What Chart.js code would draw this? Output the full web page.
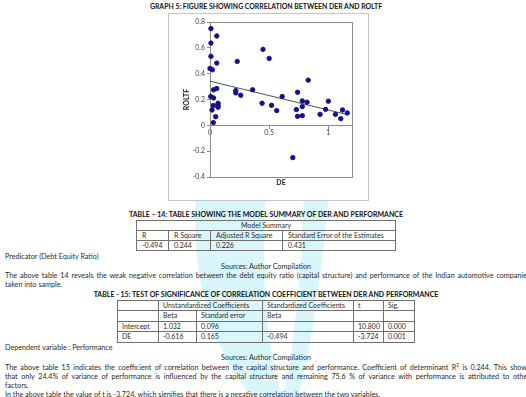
<!DOCTYPE html>
<html>
<head>
<meta charset="utf-8">
<script src="https://cdn.jsdelivr.net/npm/chart.js@4.4.1/dist/chart.umd.min.js"></script>
<style>
  html, body { margin: 0; padding: 0; }
  body { width: 526px; height: 397px; overflow: hidden; position: relative; background: #fff;
         font-family: Lato, "Open Sans", sans-serif; color: #2b2b2b; }
  .t { position: absolute; font-size: 7.2px; line-height: 9px; white-space: nowrap; }
  .j { position: absolute; left: 5px; width: 525px; height: 9px; overflow: hidden; font-size: 7.2px;
       line-height: 9px; text-align: justify; text-align-last: justify; }
  .c { position: absolute; left: 0; width: 532px; text-align: center; font-size: 7.2px; line-height: 9px; }
  .cap { font-weight: bold; color: #111; font-size: 7px; }
  table { position: absolute; border-collapse: collapse; font-size: 7px; table-layout: fixed; }
  td { border: 1px solid #707070; padding: 0 0 0 5px; line-height: 9px; white-space: nowrap; overflow: hidden; }
  #t14 td { height: 9px; }
  #t15 td { height: 9.5px; padding-left: 4px; }
  #box { position: absolute; left: 168px; top: 13px; width: 199px; height: 186px; border: 1px solid #c4c4c4; background: #fff; }
  #wrap { position: absolute; left: 155px; top: 0; width: 220px; height: 201px; }
  #mark { position: absolute; left: 0; top: 0; }
</style>
</head>
<body>
<svg id="mark" width="526" height="397">
  <path d="M196,190 Q188,320 252,397 L282,397 Q258,320 266,190 Z" fill="#d9f6fb"/>
  <path d="M304,190 Q300,320 283,397 L298,397 Q318,320 329,190 Z" fill="#d9f6fb"/>
</svg>
<div id="box"></div>
<div class="c cap" style="top:1.5px; font-size:6.9px">GRAPH 5: FIGURE SHOWING CORRELATION BETWEEN DER AND ROLTF</div>
<div id="wrap"><canvas id="scatterChart" width="220" height="201"></canvas></div>

<div class="c cap" style="top:209.5px">TABLE – 14: TABLE SHOWING THE MODEL SUMMARY OF DER AND PERFORMANCE</div>
<table id="t14" style="left:136px; top:220px; width:259px">
  <colgroup><col style="width:32px"><col style="width:42px"><col style="width:72px"><col style="width:113px"></colgroup>
  <tr><td colspan="4" style="text-align:center; padding:0">Model Summary</td></tr>
  <tr><td>R</td><td>R Square</td><td>Adjusted R Square</td><td>Standard Error of the Estimates</td></tr>
  <tr><td>-0.494</td><td>0.244</td><td>0.226</td><td>0.431</td></tr>
</table>
<div class="t" style="left:5px; top:251.5px">Predicator (Debt Equity Ratio)</div>
<div class="c" style="top:261.5px">Sources: Author Compilation</div>
<div class="j" style="top:271px">The above table 14 reveals the weak negative correlation between the debt equity ratio (capital structure) and performance of the Indian automotive companies</div>
<div class="t" style="left:5px; top:280px">taken into sample.</div>

<div class="c cap" style="top:290px">TABLE - 15: TEST OF SIGNIFICANCE OF CORRELATION COEFFICIENT BETWEEN DER AND PERFORMANCE</div>
<table id="t15" style="left:117px; top:299.5px; width:297px">
  <colgroup><col style="width:41px"><col style="width:38px"><col style="width:66px"><col style="width:91px"><col style="width:30px"><col style="width:31px"></colgroup>
  <tr><td></td><td colspan="2">Unstandardized Coefficients</td><td>Standardized Coefficients</td><td>t</td><td>Sig.</td></tr>
  <tr><td></td><td>Beta</td><td>Standard error</td><td>Beta</td><td></td><td></td></tr>
  <tr><td>Intercept</td><td>1.032</td><td>0.096</td><td></td><td>10.800</td><td>0.000</td></tr>
  <tr><td>DE</td><td>-0.616</td><td>0.165</td><td>-0.494</td><td>-3.724</td><td>0.001</td></tr>
</table>
<div class="t" style="left:5px; top:343px">Dependent variable : Performance</div>
<div class="c" style="top:352.5px">Sources: Author Compilation</div>
<div class="j" style="top:363px">The above table 15 indicates the coefficient of correlation between the capital structure and performance. Coefficient of determinant R<sup style="font-size:5px; line-height:0">2</sup> is 0.244. This shows</div>
<div class="j" style="top:372px">that only 24.4% of variance of performance is influenced by the capital structure and remaining 75.6 % of variance with performance is attributed to other</div>
<div class="t" style="left:5px; top:381px">factors.</div>
<div class="t" style="left:5px; top:390px">In the above table the value of t is -3.724, which signifies that there is a negative correlation between the two variables.</div>

<script>
// DE (debt equity ratio) vs ROLTF, one point per company
const deValues = [0.008, 0.008, 0.057, 0.008, 0.057, 0.0, 0.02, 0.23, 0.448, 0.50, 0.83,
  0.006, 0.03, 0.03, 0.057, 0.017, 0.028, 0.048, 0.028, 0.068, 0.068, 0.068,
  0.218, 0.218, 0.26, 0.36, 0.44, 0.52, 0.564, 0.61, 0.74, 0.73, 0.74, 0.78, 0.78, 0.78,
  0.82, 0.93, 0.977, 1.0, 1.06, 1.105, 1.12, 1.16, 0.70];
const roltfValues = [0.749, 0.637, 0.692, 0.534, 0.482, 0.440, 0.430, 0.495, 0.588, 0.518, 0.350,
  0.223, 0.212, 0.275, 0.285, 0.119, 0.153, 0.067, 0.021, 0.171, 0.155, 0.140,
  0.269, 0.251, 0.233, 0.275, 0.171, 0.155, 0.114, 0.223, 0.256, 0.122, 0.070, 0.145, 0.189, 0.075,
  0.179, 0.085, 0.124, 0.187, 0.085, 0.052, 0.119, 0.096, -0.25];

// linear trendline end points
const trendDE = [0, 1.16];
const trendROLTF = [0.342, 0.083];

const xTickStep = 0.5, xMin = 0, xMax = 1.2;
const yTickStep = 0.2, yMin = -0.4, yMax = 0.8;

const points = deValues.map((x, i) => ({ x: x, y: roltfValues[i] }));
const trend = trendDE.map((x, i) => ({ x: x, y: trendROLTF[i] }));

// grey frame round the plot area, like the Excel chart
const plotBorder = {
  id: 'plotBorder',
  beforeDatasetsDraw(chart) {
    const { ctx, chartArea: a } = chart;
    ctx.save();
    ctx.strokeStyle = '#8c8c8c';
    ctx.lineWidth = 1;
    ctx.strokeRect(Math.round(a.left) + 0.5, Math.round(a.top) + 0.5, Math.round(a.width), Math.round(a.height));
    ctx.restore();
  }
};

const tickFont = { family: 'Lato, "Open Sans", sans-serif', size: 7 };
const boldFont = { family: 'Lato, "Open Sans", sans-serif', size: 7, weight: 'bold' };
const fmt = v => String(Math.round(v * 10) / 10);

new Chart(document.getElementById('scatterChart'), {
  type: 'scatter',
  data: {
    datasets: [{
      label: 'ROLTF',
      data: points,
      backgroundColor: '#12128a',
      borderColor: '#12128a',
      pointRadius: 2.2,
      pointHoverRadius: 2.2,
      clip: false
    }, {
      label: 'Linear (ROLTF)',
      data: trend,
      showLine: true,
      borderColor: '#505050',
      borderWidth: 1,
      pointRadius: 0,
      fill: false
    }]
  },
  plugins: [plotBorder],
  options: {
    responsive: false,
    animation: false,
    devicePixelRatio: 1,
    layout: { padding: { left: 28, right: 23, top: 22, bottom: 12 } },
    plugins: {
      legend: { display: false },
      tooltip: { enabled: false },
      title: { display: false }
    },
    scales: {
      x: {
        type: 'linear',
        min: xMin,
        max: xMax,
        position: { y: 0 },
        grid: { drawOnChartArea: false, tickLength: 3, color: '#8c8c8c' },
        border: { display: true, color: '#8c8c8c' },
        ticks: { stepSize: xTickStep, includeBounds: false, padding: 0, color: '#404040', font: tickFont,
                 maxRotation: 0, callback: fmt }
      },
      x2: {
        type: 'linear',
        position: 'bottom',
        grid: { display: false },
        border: { display: false },
        ticks: { display: false },
        title: { display: true, text: 'DE', color: '#222', font: boldFont, padding: { top: 0, bottom: 1.8 } },
        afterFit(scale) { scale.height = 12; }
      },
      y: {
        min: yMin,
        max: yMax,
        grid: { drawOnChartArea: false, tickLength: 3, color: '#8c8c8c' },
        border: { display: true, color: '#8c8c8c' },
        ticks: { stepSize: yTickStep, padding: 2, color: '#404040', font: tickFont, callback: fmt },
        title: { display: true, text: 'ROLTF', color: '#222', font: boldFont, padding: { top: 0, bottom: 0 } },
        afterFit(scale) { scale.width = 27; }
      }
    }
  }
});
</script>
</body>
</html>
